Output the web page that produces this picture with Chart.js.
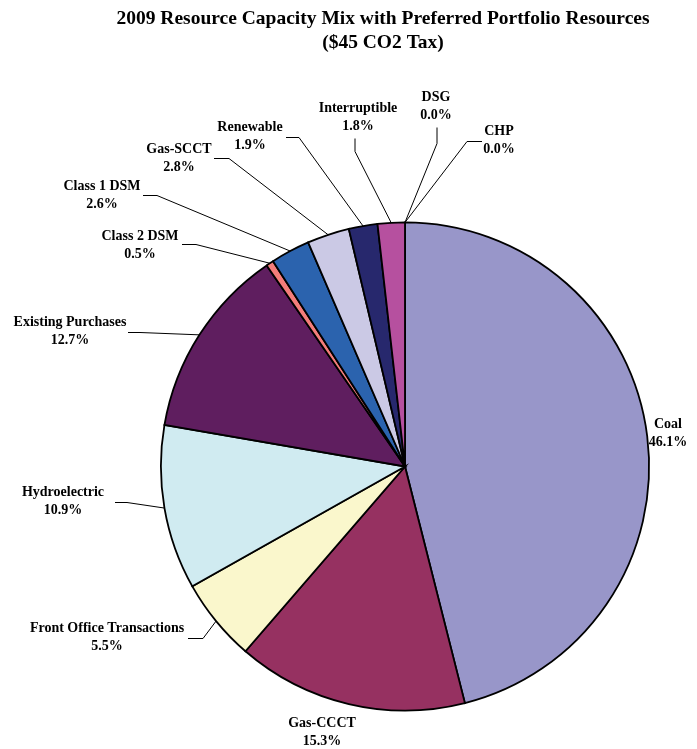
<!DOCTYPE html>
<html>
<head>
<meta charset="utf-8">
<script src="https://cdn.jsdelivr.net/npm/chart.js@4/dist/chart.umd.min.js"></script>
<style>
  html, body { margin: 0; padding: 0; background: #ffffff; }
  #wrap { position: relative; width: 697px; height: 749px; }
</style>
</head>
<body>
<div id="wrap"><canvas id="c"></canvas></div>
<script>
// ---- data ----
const titleLines = ['2009 Resource Capacity Mix with Preferred Portfolio Resources', '($45 CO2 Tax)'];
const categories = ['Coal', 'Gas-CCCT', 'Front Office Transactions', 'Hydroelectric', 'Existing Purchases',
  'Class 2 DSM', 'Class 1 DSM', 'Gas-SCCT', 'Renewable', 'Interruptible', 'DSG', 'CHP'];
const shares = [46.1, 15.3, 5.5, 10.9, 12.7, 0.5, 2.6, 2.8, 1.9, 1.8, 0.0, 0.0];
const percentLabels = ['46.1%', '15.3%', '5.5%', '10.9%', '12.7%', '0.5%', '2.6%', '2.8%', '1.9%', '1.8%', '0.0%', '0.0%'];

// ---- styles ----
const sliceColors = ['#9896c9', '#963161', '#faf7cc', '#d0ebf1', '#5f1e5f', '#f47d7a', '#2b63ae',
  '#cbc9e5', '#27286d', '#b6509f', '#ffffff', '#ffffff'];

// label layout: text centre offset from pie centre, and optional leader
// [label end point, elbow point] offsets from pie centre (line then runs to slice midpoint)
const labelLayout = [
  { t: [263, -33] },
  { t: [-83, 266] },
  { t: [-298, 171], l: [[-217, 172], [-202, 172]] },
  { t: [-342, 35], l: [[-290, 36], [-278, 36]] },
  { t: [-335, -135], l: [[-277, -134], [-265, -134]] },
  { t: [-265, -221], l: [[-223, -222], [-209, -222]] },
  { t: [-303, -271], l: [[-262, -271], [-248, -271]] },
  { t: [-226, -308], l: [[-191, -308], [-176, -308]] },
  { t: [-155, -330], l: [[-119, -329], [-106, -329]] },
  { t: [-47, -349], l: [[-50, -328], [-50, -315]] },
  { t: [31, -360], l: [[32, -339], [32, -323]] },
  { t: [94, -326], l: [[77, -325], [62, -325]] }
];

const FONT = '"Liberation Serif", "Times New Roman", serif';

const labelPlugin = {
  id: 'pieLabels',
  afterDraw(chart) {
    const ctx = chart.ctx;
    // title
    ctx.save();
    ctx.fillStyle = '#000';
    ctx.font = 'bold 19.5px ' + FONT;
    ctx.textAlign = 'center';
    ctx.textBaseline = 'middle';
    ctx.fillText(titleLines[0], 383, 19);
    ctx.fillText(titleLines[1], 383, 43);
    ctx.restore();

    const meta = chart.getDatasetMeta(0);
    ctx.save();
    ctx.font = 'bold 14px ' + FONT;
    ctx.textAlign = 'center';
    ctx.textBaseline = 'middle';
    ctx.fillStyle = '#000';
    ctx.strokeStyle = '#000';
    ctx.lineWidth = 1;
    meta.data.forEach((arc, i) => {
      const p = arc.getProps(['x', 'y', 'startAngle', 'endAngle', 'outerRadius'], true);
      const cx = p.x, cy = p.y;
      const mid = (p.startAngle + p.endAngle) / 2;
      const ax = cx + Math.cos(mid) * p.outerRadius;
      const ay = cy + Math.sin(mid) * p.outerRadius;
      const lay = labelLayout[i];
      const tx = cx + lay.t[0], ty = cy + lay.t[1];
      ctx.fillText(categories[i], tx, ty - 9);
      ctx.fillText(percentLabels[i], tx, ty + 9);
      if (lay.l) {
        ctx.beginPath();
        ctx.moveTo(cx + lay.l[0][0], cy + lay.l[0][1]);
        ctx.lineTo(cx + lay.l[1][0], cy + lay.l[1][1]);
        ctx.lineTo(ax, ay);
        ctx.stroke();
      }
    });
    ctx.restore();
  }
};

new Chart(document.getElementById('c'), {
  type: 'pie',
  data: {
    labels: categories,
    datasets: [{
      data: shares,
      backgroundColor: sliceColors,
      borderColor: '#000000',
      borderWidth: 1.8,
      borderJoinStyle: 'miter'
    }]
  },
  options: {
    responsive: true,
    maintainAspectRatio: false,
    animation: false,
    layout: { padding: { left: 160, right: 47, top: 221, bottom: 37 } },
    plugins: {
      legend: { display: false },
      title: { display: false },
      tooltip: { enabled: false }
    }
  },
  plugins: [labelPlugin]
});
</script>
</body>
</html>
